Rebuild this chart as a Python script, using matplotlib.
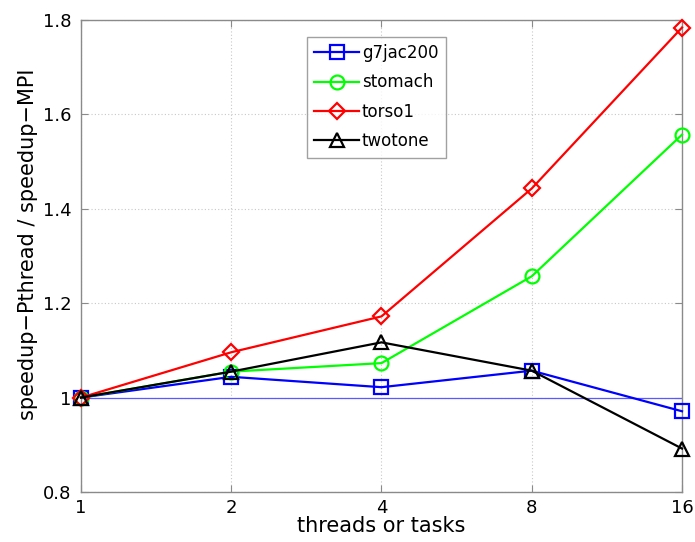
import matplotlib
matplotlib.use("Agg")
import matplotlib.pyplot as plt

plt.rcParams['font.family'] = ['DejaVu Sans']

threads = [1, 2, 4, 8, 16]
xtick_labels = ['1', '2', '4', '8', '16']
g7jac200 = [1.0, 1.044, 1.022, 1.057, 0.971]
stomach = [1.0, 1.055, 1.073, 1.257, 1.557]
torso1 = [1.0, 1.096, 1.172, 1.443, 1.784]
twotone = [1.0, 1.055, 1.117, 1.057, 0.892]
yticks = [0.8, 1.0, 1.2, 1.4, 1.6, 1.8]
ytick_labels = ['0.8', '1', '1.2', '1.4', '1.6', '1.8']

fig = plt.figure(figsize=(6.95, 5.42), dpi=100)
ax = fig.add_axes([0.1165, 0.0923, 0.8648, 0.8708])

# reference level: equal speedup
ax.plot([threads[0], threads[-1]], [1.0, 1.0], color=(0.35, 0.35, 1.0), lw=0.9, zorder=2)

series = [
    ('g7jac200', g7jac200, (0, 0, 1), 's'),
    ('stomach', stomach, (0, 1, 0), 'o'),
    ('torso1', torso1, (1, 0, 0), 'D'),
    ('twotone', twotone, (0, 0, 0), '^'),
]
for name, vals, col, mk in series:
    ms = 8 if mk == 'D' else 10
    ax.plot(threads, vals, color=col, lw=1.6, marker=mk, markersize=ms,
            markerfacecolor='none', markeredgecolor=col, markeredgewidth=1.6,
            label=name, zorder=3, clip_on=False)

ax.set_xscale('log', base=2)
ax.set_xlim(1, 16)
ax.set_ylim(0.8, 1.8)
ax.set_xticks(threads)
ax.set_xticklabels(xtick_labels)
ax.set_yticks(yticks)
ax.set_yticklabels(ytick_labels)
ax.minorticks_off()

ax.grid(True, linestyle=(0, (1, 2)), color='#c8c8c8', lw=0.8)
ax.set_axisbelow(True)
for sp in ax.spines.values():
    sp.set_color('#8a8a8a')
    sp.set_linewidth(1.0)
ax.tick_params(direction='in', length=5, color='#8a8a8a', labelsize=13,
               top=True, right=True, pad=7)
ax.tick_params(axis='x', pad=5)

ax.set_xlabel('threads or tasks', fontsize=15, labelpad=-1)
ax.set_ylabel('speedup\u2212Pthread / speedup\u2212MPI', fontsize=15)
ax.yaxis.set_label_coords(-0.072, 0.525)

leg = ax.legend(loc='upper left', bbox_to_anchor=(0.376, 0.965), fontsize=12,
                frameon=True, fancybox=False, edgecolor='#8a8a8a',
                handlelength=2.7, handletextpad=0.15, borderpad=0.45,
                labelspacing=0.68, borderaxespad=0)
leg.get_frame().set_linewidth(1.0)

fig.savefig('out.png', dpi=100)
